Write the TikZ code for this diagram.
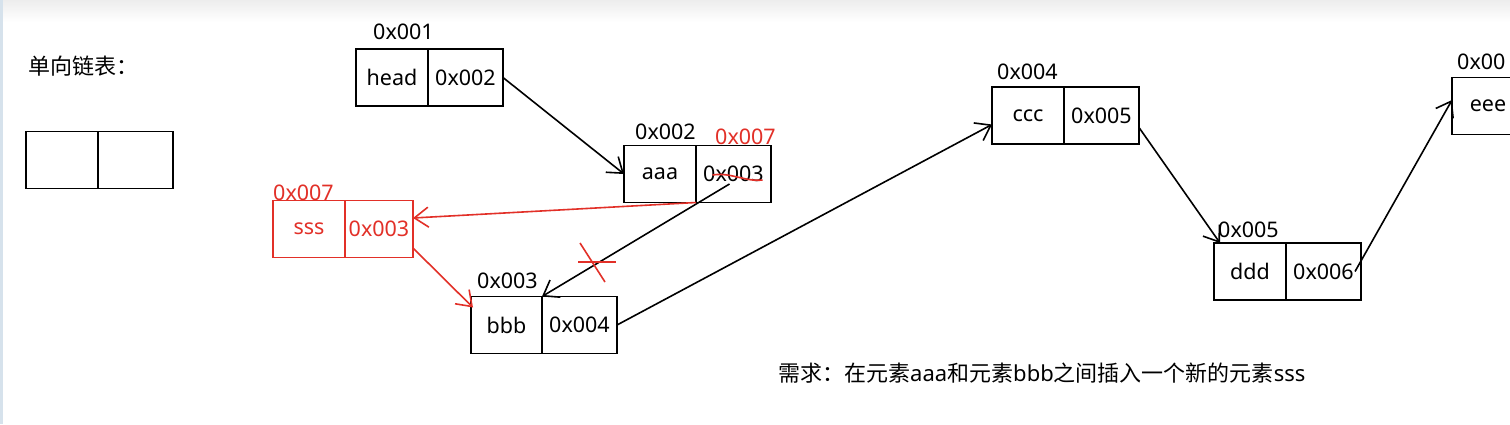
\documentclass[tikz,border=0pt]{standalone}
\usepackage{fontspec}
\setmainfont{Noto Sans}
\newfontfamily\cjk{Noto Sans CJK SC}
\usetikzlibrary{arrows.meta,calc}
\definecolor{inkred}{RGB}{226,48,40}
\definecolor{sidebar}{RGB}{214,226,236}
\tikzset{
  cell/.style={draw, line width=1.8pt, minimum height=57pt, inner sep=0pt, outer sep=0pt, anchor=west, font=\fontsize{21.5}{26}\selectfont},
  addr/.style={anchor=west, inner sep=0pt, font=\fontsize{21.5}{26}\selectfont},
  arr/.style={line width=1.6pt, -{Straight Barb[length=14pt,width=20pt]}},
  redline/.style={draw=inkred, line width=1.6pt},
}
\begin{document}
\begin{tikzpicture}[x=1pt,y=-1pt]
\useasboundingbox (0,0) rectangle (1510,424);
\clip (0,0) rectangle (1510,424);
\fill[white] (0,0) rectangle (1510,424);
\shade[top color=black!7, bottom color=white] (0,0) rectangle (1510,22);
\fill[sidebar] (0,0) rectangle (3,424);

% title
\node[anchor=west, inner sep=0pt, font=\cjk\fontsize{22}{26}\selectfont] (title) at (28,66) {单向链表：};

% legend box
\node[cell, minimum width=72pt] (legL) at (26,160) {};
\node[cell, minimum width=75pt] (legR) at (legL.east) {};

% address labels
\node[addr] (a1) at (373,32) {0x001};
\node[addr] (a2) at (635,132) {0x002};
\node[addr, text=inkred] (a7b) at (715,137) {0x007};
\node[addr, text=inkred] (a7) at (273,193) {0x007};
\node[addr] (a3) at (477,281) {0x003};
\node[addr] (a4) at (997,72) {0x004};
\node[addr] (a5) at (1218,230) {0x005};
\node[addr] (a6) at (1457,62) {0x00};

% head
\node[cell, minimum width=72pt] (headL) at (356,77.5) {head};
\node[cell, minimum width=75pt] (headR) at (headL.east) {0x002};
% aaa
\node[cell, minimum width=72pt] (aaaL) at (624,174) {aaa};
\node[cell, minimum width=75pt] (aaaR) at (aaaL.east) {0x003};
% sss (new)
\node[cell, draw=inkred, text=inkred, minimum width=72pt] (sssL) at (273,229) {sss};
\node[cell, draw=inkred, text=inkred, minimum width=68pt] (sssR) at (sssL.east) {0x003};
% bbb
\node[cell, minimum width=71pt] (bbbL) at (471,325) {bbb};
\node[cell, minimum width=75pt] (bbbR) at (bbbL.east) {0x004};
% ccc
\node[cell, minimum width=72pt] (cccL) at (992,115.5) {ccc};
\node[cell, minimum width=75pt] (cccR) at (cccL.east) {0x005};
% ddd
\node[cell, minimum width=72pt] (dddL) at (1214,271.5) {ddd};
\node[cell, minimum width=75pt] (dddR) at (dddL.east) {0x006};
% eee
\node[cell, minimum width=72pt] (eeeL) at (1452,106) {eee};

% links
\draw[arr] (headR.east) -- (aaaL.west);
\draw[arr] ($(aaaR.center)+(-4,10)$) -- (bbbL.north east);
\draw[arr] (bbbR.east) -- ($(cccL.west)+(0,9)$);
\draw[arr] ($(cccR.east)+(0,12)$) -- ($(dddL.north west)+(6,0)$);
\draw[arr] ($(dddR.east)+(-6,0)$) -- ($(eeeL.west)+(0,-6)$);

% new links (red)
\draw[arr, draw=inkred] (aaaR.south west) -- ($(sssR.east)+(0,-11)$);
\draw[arr, draw=inkred] ($(sssR.east)+(0,19)$) -- ($(bbbL.north west)+(2,11)$);

% strike-out of old address and cut mark
\draw[redline] ($(aaaR.center)+(-21,1)$) .. controls ($(aaaR.center)+(-3,-2)$) and ($(aaaR.center)+(12,8)$) .. ($(aaaR.center)+(29,6)$);
\draw[redline] (578,262) -- (616,262);
\draw[redline] (580,243) -- (605,282);

% requirement
\node[anchor=west, inner sep=0pt, font=\fontsize{22}{26}\selectfont] (req) at (778,373)
  {{\cjk 需求：在元素}aaa{\cjk 和元素}bbb{\cjk 之间插入一个新的元素}sss};
\end{tikzpicture}
\end{document}
